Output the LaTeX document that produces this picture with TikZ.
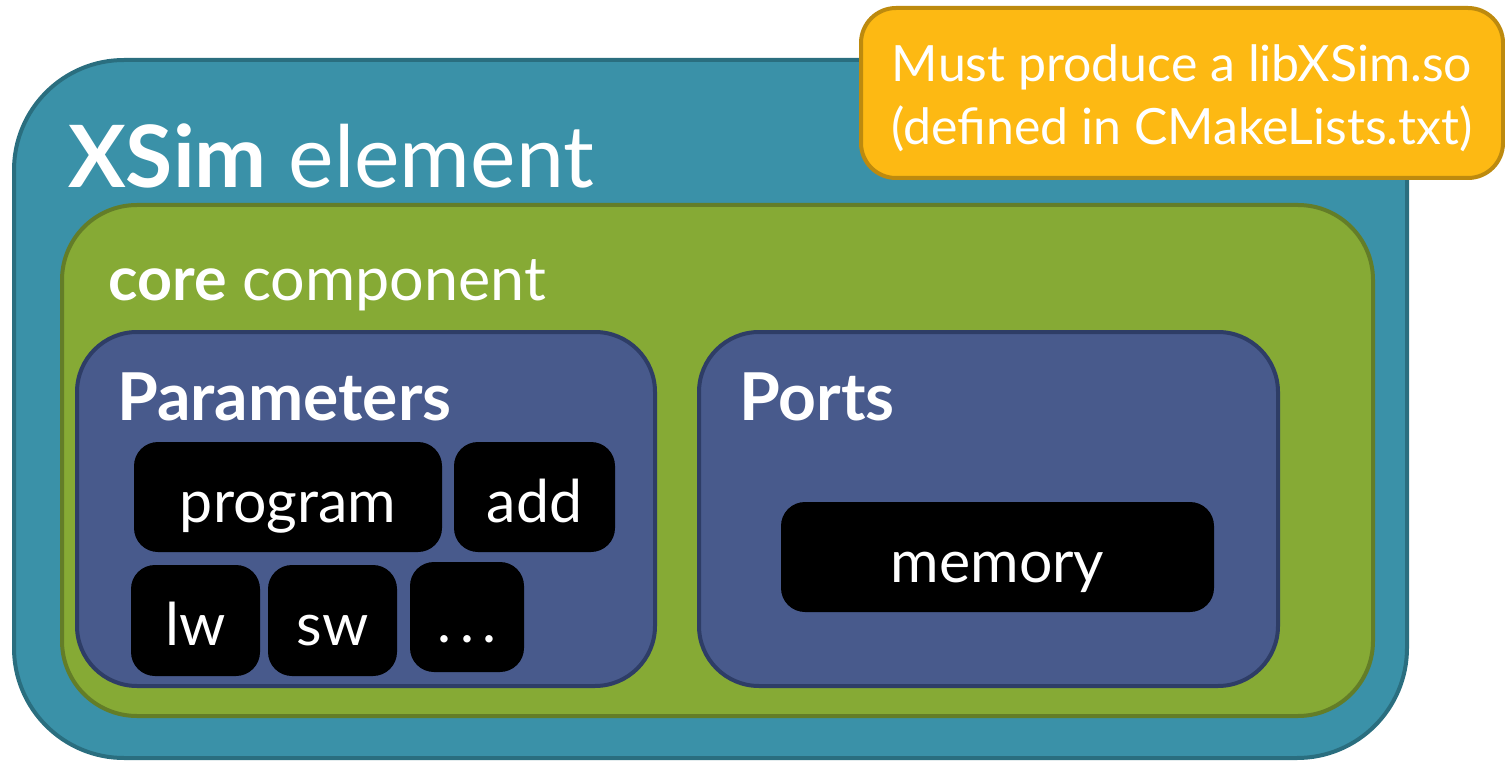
\documentclass[tikz,border=0pt]{standalone}
\usepackage{fontspec}
\setmainfont{Lato}
\definecolor{tealfill}{HTML}{3A91A8}
\definecolor{tealline}{HTML}{2A6E7F}
\definecolor{greenfill}{HTML}{86AA35}
\definecolor{greenline}{HTML}{637D28}
\definecolor{bluefill}{HTML}{485A8C}
\definecolor{blueline}{HTML}{2E3D66}
\definecolor{orangefill}{HTML}{FDB913}
\definecolor{orangeline}{HTML}{BD8A0E}
\begin{document}
\begin{tikzpicture}[x=1pt,y=-1pt,
  box/.style={rectangle,inner sep=0pt,outer sep=0pt,line width=4pt},
  title/.style={anchor=base west,inner sep=0pt,text=white},
  blk/.style={rectangle,fill=black,rounded corners=24pt,inner sep=0pt,text=white,
    text height=50pt,text depth=0pt,font=\fontsize{59}{66}\selectfont},
]
\useasboundingbox (0,0) rectangle (1505,762);
% outer teal
\node[box,draw=tealline,fill=tealfill,rounded corners=110pt,minimum width=1393pt,minimum height=698pt] (outer) at (710.5,409) {};
\node[title,font=\fontsize{86}{96}\selectfont] (xsim) at (68,188) {\textbf{XSim} element};
% green
\node[box,draw=greenline,fill=greenfill,rounded corners=75pt,minimum width=1311pt,minimum height=511pt] (core) at (717.5,460.5) {};
\node[title,font=\fontsize{61}{68}\selectfont] (coret) at (108,300) {\textbf{core} component};
% parameter and ports
\node[box,draw=blueline,fill=bluefill,rounded corners=60pt,minimum width=578pt,minimum height=354pt] (params) at (366,509) {};
\node[box,draw=blueline,fill=bluefill,rounded corners=60pt,minimum width=579pt,minimum height=354pt] (ports) at (988.5,509) {};
\node[title,font=\fontsize{66}{74}\selectfont\bfseries] (paramt) at (117,420) {Parameters};
\node[title,font=\fontsize{66}{74}\selectfont\bfseries] (portst) at (739,420) {Ports};
% black boxes
\node[blk,minimum width=308pt,minimum height=110pt] (program) at (288,497) {program};
\node[blk,minimum width=161pt,minimum height=110pt] (add) at (534.5,497) {add};
\node[blk,minimum width=129pt,minimum height=111pt] (lw) at (195.5,620.5) {lw};
\node[blk,minimum width=129pt,minimum height=111pt] (sw) at (332.5,620.5) {sw};
\node[blk,minimum width=114pt,minimum height=110pt] (dots) at (467,617) {.\hspace{9pt}.\hspace{9pt}.};
\node[blk,minimum width=433pt,minimum height=110pt] (memory) at (997.5,557) {memory};
% orange note
\node[box,draw=orangeline,fill=orangefill,rounded corners=35pt,minimum width=642pt,minimum height=170pt] (note) at (1182,93) {};
\node[text=white,align=center,inner sep=0pt,font=\fontsize{50}{63}\selectfont] (notet) at (1182,98) {Must produce a libXSim.so\\(defined in CMakeLists.txt)};
\end{tikzpicture}
\end{document}
